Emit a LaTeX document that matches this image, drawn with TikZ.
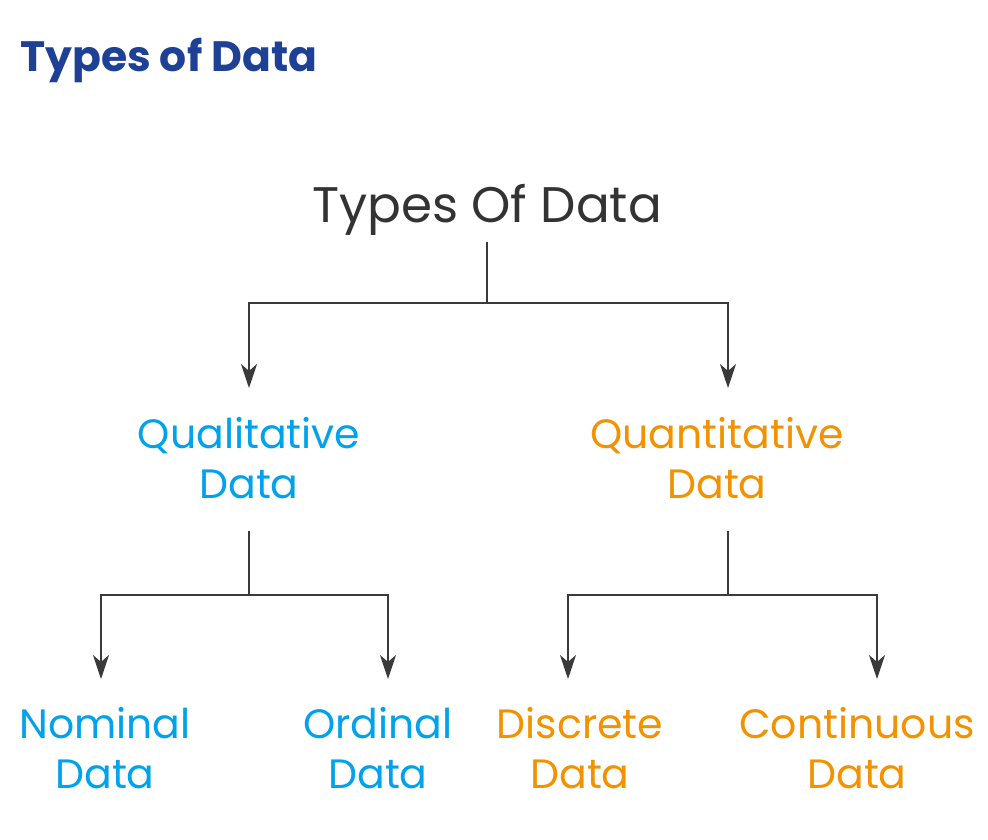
\documentclass[tikz,border=0pt]{standalone}
\usepackage{fontspec}
\setmainfont{Poppins}
\usetikzlibrary{arrows.meta}
\definecolor{headblue}{HTML}{1E4196}
\definecolor{qualblue}{HTML}{00A2EC}
\definecolor{quantorange}{HTML}{F39200}
\definecolor{darktext}{HTML}{333333}
\definecolor{linegray}{HTML}{3A3A3A}
\tikzset{
  leaf/.style={align=center,inner sep=0pt,font=\fontsize{41}{50}\selectfont},
  qualnode/.style={leaf,text=qualblue},
  quantnode/.style={leaf,text=quantorange},
  branch/.style={draw=linegray,line width=2pt},
  branchto/.style={branch,-{Stealth[length=24pt,width=16pt,inset=7pt]}}
}
\begin{document}
\begin{tikzpicture}[x=1pt,y=-1pt]
  \useasboundingbox (0,0) rectangle (988,839);
  \node[anchor=base west,inner sep=0pt,text=headblue,font=\fontsize{42.5}{52}\selectfont\bfseries] (heading) at (20,71) {Types of Data};
  \node[anchor=base,inner sep=0pt,text=darktext,font=\fontsize{50}{60}\selectfont] (root) at (487,222) {Types Of Data};
  % second level
  \node[qualnode] (qual) at (249,458) {Qualitative\\Data};
  \node[quantnode] (quant) at (717,458) {Quantitative\\Data};
  % third level
  \node[qualnode] (nominal) at (105,748) {Nominal\\Data};
  \node[qualnode] (ordinal) at (378,748) {Ordinal\\Data};
  \node[quantnode] (discrete) at (580,748) {Discrete\\Data};
  \node[quantnode] (continuous) at (857,748) {Continuous\\Data};
  % joints and arrow tips
  \coordinate (root-out) at (487,242);
  \coordinate (root-join) at (487,303);
  \coordinate (qual-in) at (249,388);
  \coordinate (quant-in) at (728,388);
  \coordinate (qual-out) at (249,531);
  \coordinate (quant-out) at (728,531);
  \coordinate (qual-join) at (249,595);
  \coordinate (quant-join) at (728,595);
  \coordinate (nominal-in) at (101,679);
  \coordinate (ordinal-in) at (388,679);
  \coordinate (discrete-in) at (568,679);
  \coordinate (continuous-in) at (877,679);
  \draw[branch] (root-out) -- (root-join);
  \draw[branchto] (root-join) -| (qual-in);
  \draw[branchto] (root-join) -| (quant-in);
  \draw[branch] (qual-out) -- (qual-join);
  \draw[branchto] (qual-join) -| (nominal-in);
  \draw[branchto] (qual-join) -| (ordinal-in);
  \draw[branch] (quant-out) -- (quant-join);
  \draw[branchto] (quant-join) -| (discrete-in);
  \draw[branchto] (quant-join) -| (continuous-in);
\end{tikzpicture}
\end{document}
